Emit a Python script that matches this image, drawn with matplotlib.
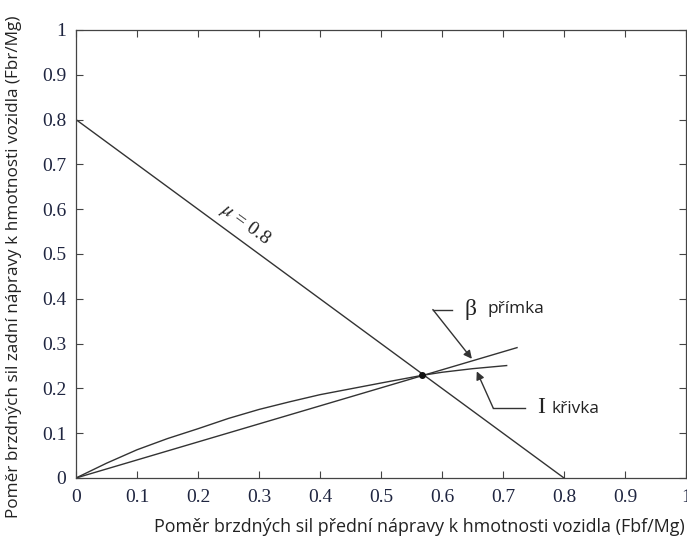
import numpy as np
import matplotlib
matplotlib.use('Agg')
import matplotlib.pyplot as plt

### DATA
# mu = 0.8 line (adhesion limit)
mu_x = [0.0, 0.8]
mu_y = [0.8, 0.0]
# beta line (installed brake distribution)
beta_x = [0.0, 0.723]
beta_y = [0.0, 0.291]
# I curve (ideal brake distribution)
icurve_x = [0.0, 0.05, 0.10, 0.15, 0.20, 0.25, 0.30, 0.35, 0.40, 0.45, 0.50, 0.567, 0.60, 0.65, 0.706]
icurve_y = [0.0, 0.033, 0.063, 0.088, 0.110, 0.133, 0.153, 0.170, 0.186, 0.199, 0.212, 0.229, 0.236, 0.244, 0.251]
# intersection point
cross_x = [0.567]
cross_y = [0.229]

ticks = [0, 0.1, 0.2, 0.3, 0.4, 0.5, 0.6, 0.7, 0.8, 0.9, 1]
tick_labels = ['0', '0.1', '0.2', '0.3', '0.4', '0.5', '0.6', '0.7', '0.8', '0.9', '1']

xlabel = 'Poměr brzdných sil přední nápravy k hmotnosti vozidla (Fbf/Mg)'
ylabel = 'Poměr brzdných sil zadní nápravy k hmotnosti vozidla (Fbr/Mg)'

#################################################################
line_col = '#333333'
tick_col = '#1f2540'
sans = ['Open Sans', 'DejaVu Sans']
serif = ['Liberation Serif', 'DejaVu Serif']
plt.rcParams['font.family'] = serif
plt.rcParams['mathtext.fontset'] = 'stix'

fig = plt.figure(figsize=(6.87, 5.40), dpi=100)
ax = fig.add_axes([76/687, 1-478/540, 610/687, 448/540])

ax.plot(mu_x, mu_y, color=line_col, lw=1.0)
ax.plot(beta_x, beta_y, color=line_col, lw=1.0)
ax.plot(icurve_x, icurve_y, color=line_col, lw=1.0)
ax.plot(cross_x, cross_y, 'o', color='#111111', ms=4)

ax.set_xlim(0, 1)
ax.set_ylim(0, 1)
ax.set_xticks(ticks)
ax.set_yticks(ticks)
ax.set_xticklabels(tick_labels, fontsize=14, color=tick_col)
ax.set_yticklabels(tick_labels, fontsize=14, color=tick_col)
ax.tick_params(direction='in', length=5, width=0.8, color='#444444',
               top=True, right=True)
ax.tick_params(axis='x', pad=8)
ax.tick_params(axis='y', pad=7)
for s in ax.spines.values():
    s.set_color('#444444')
    s.set_linewidth(0.9)

# mu label along the line
ax.text(0.278, 0.567, r'$\mu$ = 0.8', rotation=-36, ha='center', va='center',
        fontsize=14, color='#222222', rotation_mode='anchor')

# beta annotation
ax.plot([0.585, 0.616], [0.376, 0.376], color=line_col, lw=1.0)
ax.annotate('', xy=(0.649, 0.266), xytext=(0.585, 0.376),
            arrowprops=dict(arrowstyle='-|>', color=line_col, lw=1.0,
                            mutation_scale=12, shrinkA=0, shrinkB=0))
ax.text(0.646, 0.376, 'β', ha='center', va='center', fontsize=17,
        color='#222222')
ax.text(0.674, 0.378, 'přímka', ha='left', va='center', fontsize=12.4,
        fontfamily=sans, color='#222222')

# I annotation
ax.plot([0.684, 0.736], [0.156, 0.156], color=line_col, lw=1.0)
ax.annotate('', xy=(0.657, 0.238), xytext=(0.684, 0.156),
            arrowprops=dict(arrowstyle='-|>', color=line_col, lw=1.0,
                            mutation_scale=12, shrinkA=0, shrinkB=0))
ax.text(0.762, 0.158, 'I', ha='center', va='center', fontsize=17,
        color='#222222')
ax.text(0.78, 0.154, 'křivka', ha='left', va='center', fontsize=12.4,
        fontfamily=sans, color='#222222')

fig.text(0.611, 0.024, xlabel, ha='center', va='center', fontsize=12.9,
         fontfamily=sans, color='#222222')
fig.text(0.021, 0.506, ylabel, ha='center', va='center', rotation=90,
         fontsize=12.3, fontfamily=sans, color='#222222')

fig.savefig('out.png', dpi=100)
